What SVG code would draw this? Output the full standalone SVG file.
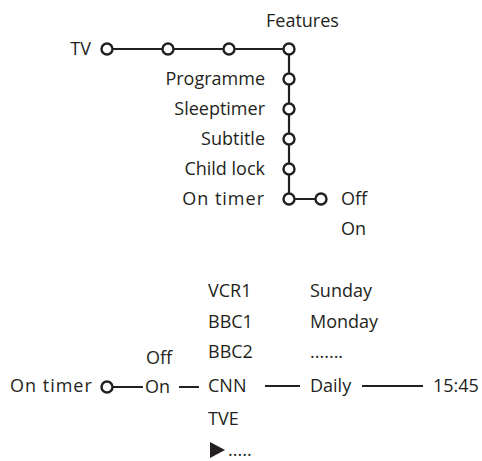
<svg xmlns="http://www.w3.org/2000/svg" width="482" height="461" viewBox="0 0 482 461">
<style>
text{font-family:"Open Sans","Liberation Sans",sans-serif;font-size:18px;fill:#231f20}
.e{text-anchor:end}
.w{letter-spacing:1px}
.n{fill:#fff;stroke:#231f20;stroke-width:2.4}
.c{stroke:#231f20;stroke-width:2.2;fill:none}
</style>
<rect width="482" height="461" fill="#fff"/>
<g id="connectors">
<path class="c" d="M107 49H289V199H321"/>
<path class="c" d="M107 387H143M179 387H199M265 386H300M362 386H423"/>
<path d="M210 442L225 450L210 458Z" fill="#231f20"/>
</g>
<g id="tv"><text class="e" x="91" y="55">TV</text><circle class="n" cx="107" cy="49" r="5.5"/></g>
<g id="n2"><circle class="n" cx="168" cy="49" r="5.5"/></g>
<g id="n3"><circle class="n" cx="229" cy="49" r="5.5"/></g>
<g id="features"><text x="266" y="27">Features</text><circle class="n" cx="289" cy="49" r="5.5"/></g>
<g id="programme"><text class="e" x="265" y="85">Programme</text><circle class="n" cx="289" cy="79" r="5.5"/></g>
<g id="sleeptimer"><text class="e" x="265" y="115">Sleeptimer</text><circle class="n" cx="289" cy="109" r="5.5"/></g>
<g id="subtitle"><text class="e" x="265" y="145">Subtitle</text><circle class="n" cx="289" cy="139" r="5.5"/></g>
<g id="childlock"><text class="e" x="265" y="175">Child lock</text><circle class="n" cx="289" cy="169" r="5.5"/></g>
<g id="ontimer"><text class="e w" x="265" y="205">On timer</text><circle class="n" cx="289" cy="199" r="5.5"/></g>
<g id="off"><circle class="n" cx="321" cy="199" r="5.5"/><text x="341" y="205">Off</text></g>
<g id="on"><text x="341" y="235">On</text></g>
<g id="ontimer2"><text class="w" x="10" y="392">On timer</text><circle class="n" cx="107" cy="387" r="5.5"/></g>
<g id="off2"><text x="146" y="364">Off</text></g>
<g id="on2"><text x="145" y="393">On</text></g>
<g id="channels">
<text x="208" y="297">VCR1</text>
<text x="208" y="328">BBC1</text>
<text x="208" y="358">BBC2</text>
<text x="208" y="392">CNN</text>
<text x="208" y="425">TVE</text>
<text x="228" y="456">.....</text>
</g>
<g id="days">
<text x="310" y="297">Sunday</text>
<text x="310" y="328">Monday</text>
<text x="310" y="358">.......</text>
<text x="310" y="392">Daily</text>
</g>
<g id="time"><text x="433" y="392">15:45</text></g>
</svg>
